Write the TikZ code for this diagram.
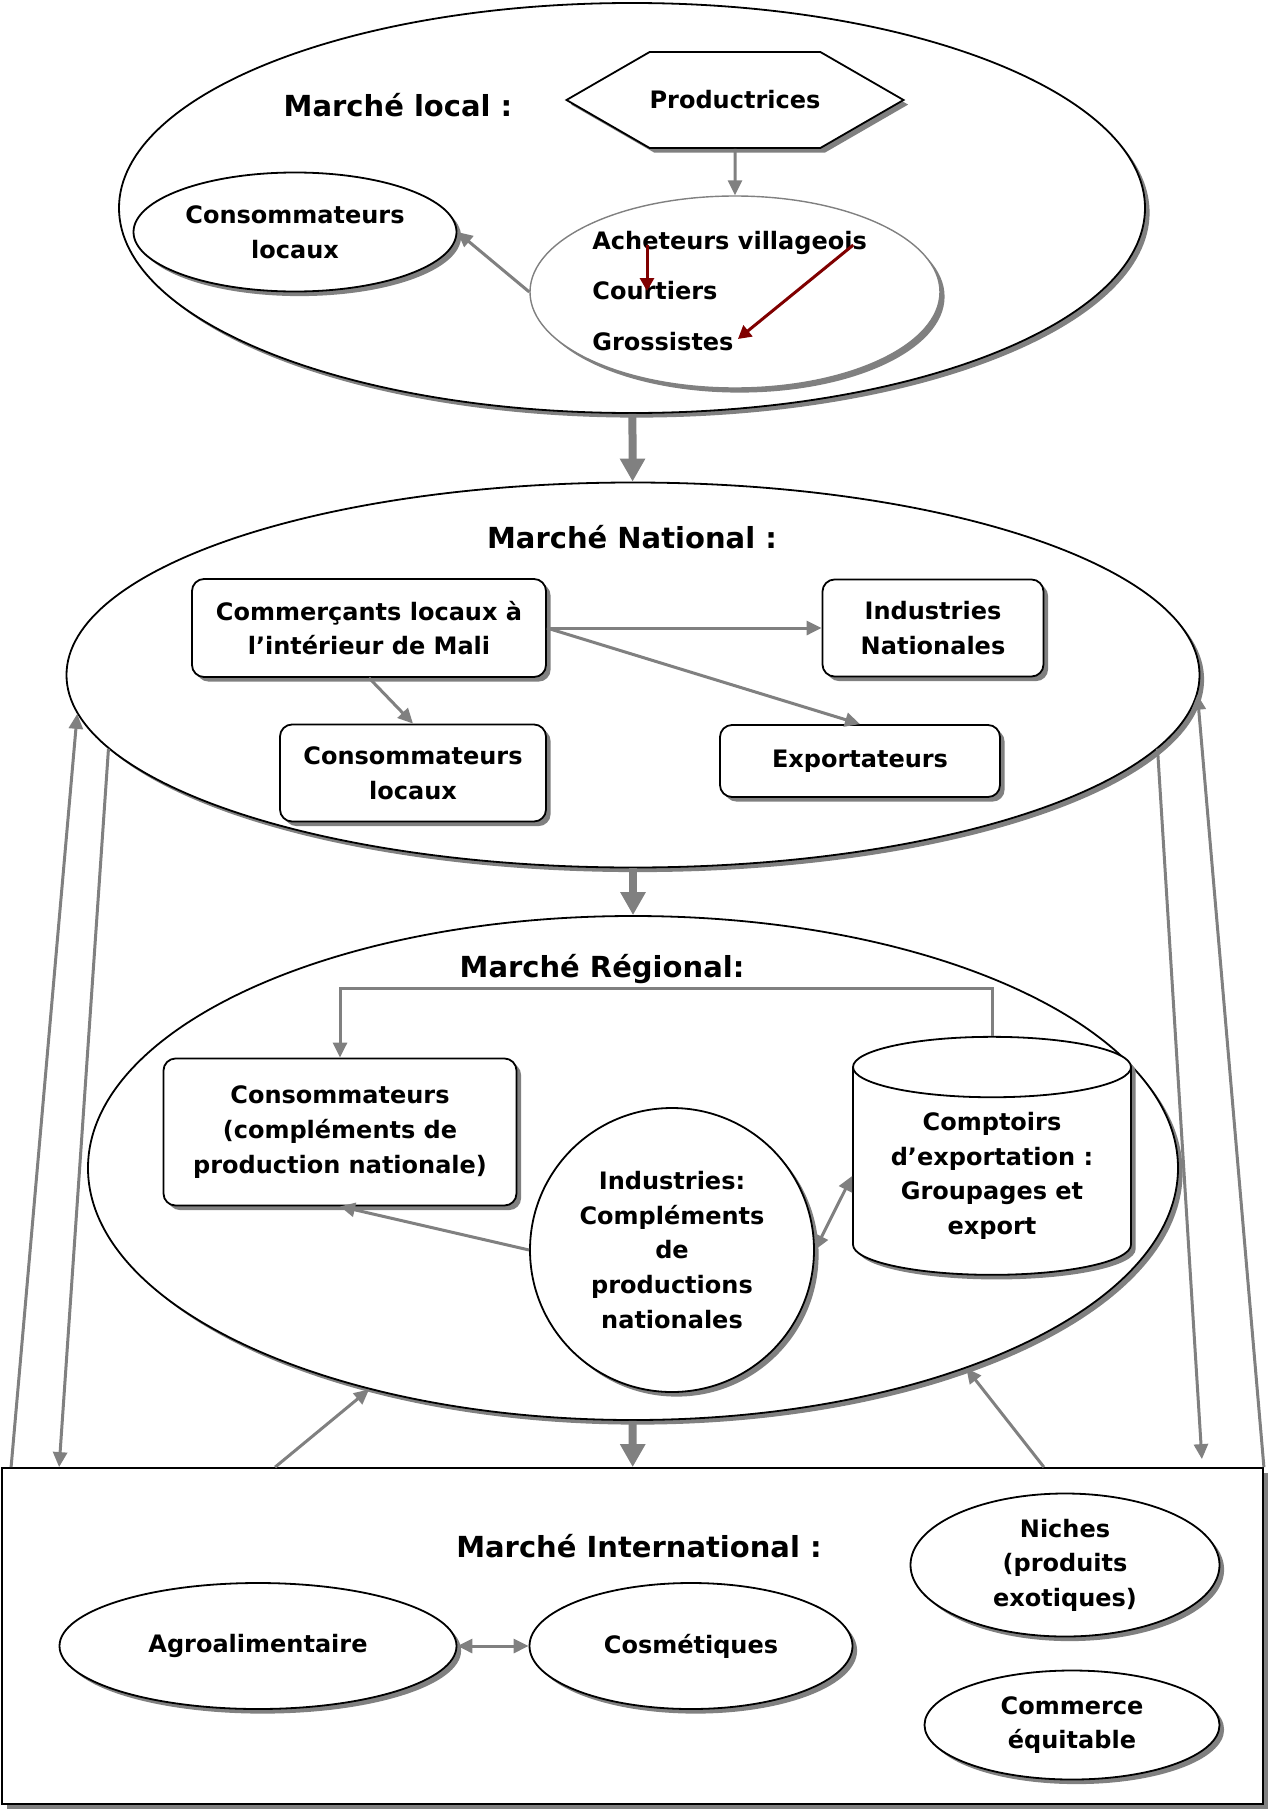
\documentclass[tikz,border=0pt]{standalone}
\usepackage{fontspec}
\setmainfont{DejaVu Sans}
\usetikzlibrary{arrows.meta,positioning,shapes.geometric,shapes.symbols,shadows}
\definecolor{FlowGray}{RGB}{128,128,128}
\definecolor{FlowRed}{RGB}{128,0,0}

\begin{document}
\begin{tikzpicture}[x=0.5pt,y=-0.5pt,
    every node/.style={font=\bfseries\fontsize{12}{17.3}\selectfont,align=center},
    boxshadow/.style={drop shadow={shadow xshift=2.3pt,shadow yshift=-2.3pt,fill=black!50,opacity=1}},
    market/.style={draw,ellipse,fill=white,line width=0.9pt,boxshadow},
    roundbox/.style={draw,rounded corners=6pt,fill=white,line width=0.9pt,boxshadow},
    oval/.style={draw,ellipse,fill=white,line width=0.9pt,inner sep=1pt,boxshadow},
    mtitle/.style={font=\bfseries\fontsize{14.5}{17}\selectfont},
    flow/.style={-{Triangle[length=7.5pt,width=7pt]},draw=FlowGray,line width=1.5pt},
    dflow/.style={flow,{Triangle[length=7.5pt,width=7pt]}-{Triangle[length=7.5pt,width=7pt]}},
    bigflow/.style={-{Triangle[length=11.5pt,width=12pt]},draw=FlowGray,line width=4pt},
    redflow/.style={-{Triangle[length=6.5pt,width=7pt]},draw=FlowRed,line width=1.5pt}]
    \useasboundingbox (0,0) rectangle (1268,1809);

    \node[market,minimum width=513pt,minimum height=205pt] (local) at (632,208) {};
    \node[mtitle] (tlocal) at (398,105) {Marché local :};
    \node[signal,signal to=east and west,signal pointer angle=60,draw,fill=white,line width=0.9pt,boxshadow,inner xsep=0pt,minimum width=168pt,minimum height=48pt] (prod) at (735,100) {Productrices};
    \node[oval,minimum width=161.5pt,minimum height=59.5pt] (lconso) at (295,232) {Consommateurs\\locaux};
    \node[oval,draw=FlowGray,line width=0.7pt,minimum width=205pt,minimum height=96pt] (chain) at (735,292) {};
    \node[anchor=west,inner sep=0pt] (ach) at (592,243) {Acheteurs villageois};
    \node[anchor=west,inner sep=0pt] (court) at (592,291) {Courtiers};
    \node[anchor=west,inner sep=0pt] (gros) at (592,342) {Grossistes};
    \draw[flow] (prod) -- (chain);
    \draw[flow] (chain.west) -- (lconso.east);
    \draw[redflow] ([xshift=27.5pt,yshift=-1pt]ach.west) -- ([xshift=27.5pt]court.west);
    \draw[redflow] ([xshift=-7pt,yshift=-1pt]ach.east) -- ([xshift=2pt,yshift=1.5pt]gros.east);

    \node[market,minimum width=566.5pt,minimum height=192.5pt] (national) at (633,675) {};
    \node[mtitle] (tnat) at (632,537) {Marché National :};
    \node[roundbox,minimum width=177pt,minimum height=49pt] (comm) at (369,628) {Commerçants locaux à\\l’intérieur de Mali};
    \node[roundbox,minimum width=110.5pt,minimum height=48.5pt] (indnat) at (933,628) {Industries\\Nationales};
    \node[roundbox,minimum width=133pt,minimum height=48.5pt] (nconso) at (413,773) {Consommateurs\\locaux};
    \node[roundbox,minimum width=140pt,minimum height=36pt] (expo) at (860,761) {Exportateurs};
    \draw[flow] (comm.east) -- (indnat.west);
    \draw[flow] (comm.east) -- (expo.north);
    \draw[flow] (comm.south) -- (nconso.north);

    \node[market,minimum width=545pt,minimum height=252pt] (regional) at (633,1168) {};
    \node[mtitle] (treg) at (602,969) {Marché Régional:};
    \node[roundbox,minimum width=176.5pt,minimum height=73.5pt] (rconso) at (340,1132) {Consommateurs\\(compléments de\\production nationale)};
    \node[cylinder,shape border rotate=90,aspect=0.28,draw,fill=white,line width=0.9pt,boxshadow,minimum width=139pt,minimum height=119pt] (comptoir) at (992,1176) {Comptoirs\\d’exportation :\\Groupages et\\export};
    \node[circle,draw,fill=white,line width=0.9pt,boxshadow,minimum size=142pt,inner sep=1pt] (indreg) at (672,1250) {Industries:\\Compléments\\de\\productions\\nationales};
    \draw[flow] (comptoir.north) -- ++(0,-47) -| (rconso.north);
    \draw[flow] (indreg.west) -- (rconso.south);
    \draw[dflow] (indreg.east) -- (comptoir.west);

    \node[draw,fill=white,line width=0.9pt,boxshadow,minimum width=630.5pt,minimum height=168pt] (intl) at (632.5,1636) {};
    \node[mtitle] (tint) at (639,1546) {Marché International :};
    \node[oval,minimum width=198.5pt,minimum height=63pt] (agro) at (258,1646) {Agroalimentaire};
    \node[oval,minimum width=161.5pt,minimum height=63pt] (cosm) at (691,1646) {Cosmétiques};
    \node[oval,minimum width=154.5pt,minimum height=71.5pt] (niche) at (1065,1565) {Niches\\(produits\\exotiques)};
    \node[oval,minimum width=147.5pt,minimum height=54.5pt] (equit) at (1072,1725) {Commerce\\équitable};
    \draw[dflow] (agro) -- (cosm);

    \draw[bigflow] (local) -- (national);
    \draw[bigflow] (national) -- (regional);
    \draw[bigflow] (regional) -- (intl);
    \draw[flow] ([xshift=5pt]intl.north west) -- (national.184.5);
    \draw[flow] (national.188) -- ([xshift=29pt]intl.north west);
    \draw[flow] (national.-8.5) -- ([xshift=-31pt,yshift=4pt]intl.north east);
    \draw[flow] (intl.north east) -- (national.-2.5);
    \draw[flow] ([xshift=137pt]intl.north west) -- (regional.220);
    \draw[flow] ([xshift=-110pt]intl.north east) -- (regional.-31);
\end{tikzpicture}
\end{document}
